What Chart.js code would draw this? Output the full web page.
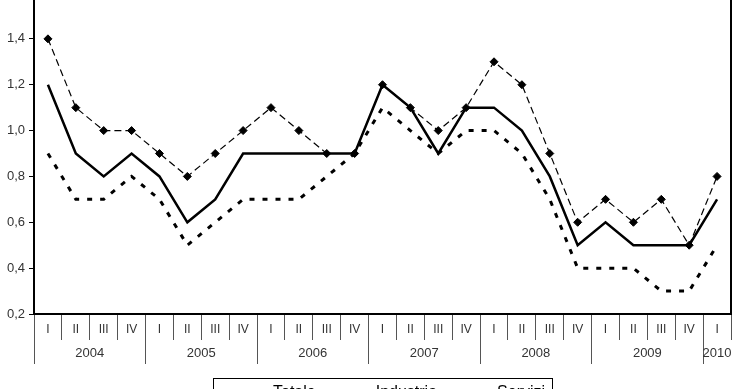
<!DOCTYPE html>
<html><head><meta charset="utf-8">
<script src="https://cdn.jsdelivr.net/npm/chart.js@4.4.0/dist/chart.umd.min.js"></script>
<style>
html,body{margin:0;padding:0;background:#fff;overflow:hidden;width:740px;height:389px;}
#wrap{position:absolute;left:0;top:-20px;width:740px;height:440px;}
</style></head><body>
<div id="wrap"><canvas id="c"></canvas></div>
<script>
const quarters = ['I','II','III','IV','I','II','III','IV','I','II','III','IV','I','II','III','IV','I','II','III','IV','I','II','III','IV','I'];
const years = ['2004','2005','2006','2007','2008','2009','2010'];
const totale    = [1.2,0.9,0.8,0.9, 0.8,0.6,0.7,0.9, 0.9,0.9,0.9,0.9, 1.2,1.1,0.9,1.1, 1.1,1.0,0.8,0.5, 0.6,0.5,0.5,0.5, 0.7];
const industria = [0.9,0.7,0.7,0.8, 0.7,0.5,0.6,0.7, 0.7,0.7,0.8,0.9, 1.1,1.0,0.9,1.0, 1.0,0.9,0.7,0.4, 0.4,0.4,0.3,0.3, 0.5];
const servizi   = [1.4,1.1,1.0,1.0, 0.9,0.8,0.9,1.0, 1.1,1.0,0.9,0.9, 1.2,1.1,1.0,1.1, 1.3,1.2,0.9,0.6, 0.7,0.6,0.7,0.5, 0.8];
const yMin = 0.2, yMax = 1.6, yStep = 0.2;

// year axis ticks: boundaries every 4 quarters, labels in the middle of each year
const yearTickValues = [];
for (let i = 0; i <= quarters.length; i += 2) yearTickValues.push(i);
yearTickValues.push(quarters.length - 0.5);
yearTickValues.sort((a,b)=>a-b);

const FONT = 'Liberation Sans, Arial, sans-serif';

const legendBox = {
  id: 'legendBox',
  afterLayout(chart) {
    const lg = chart.legend;
    lg.left = 213;
    lg.top += 4;
    lg.bottom += 4;
  },
  afterDraw(chart) {
    const lg = chart.legend;
    const pad = lg.options.labels.padding;
    const ctx = chart.ctx;
    const x0 = lg.left + pad - 12;
    const w = lg.lineWidths[0] - pad + 19;
    const y0 = lg.top + pad - 7;
    ctx.save();
    ctx.strokeStyle = '#000';
    ctx.lineWidth = 1;
    ctx.strokeRect(Math.round(x0) + 0.5, Math.round(y0) + 0.5, Math.round(w), 40);
    ctx.restore();
  }
};

new Chart(document.getElementById('c'), {
  type: 'line',
  data: {
    labels: quarters,
    datasets: [
      { label: 'Totale', data: totale, borderColor: '#000', borderWidth: 2.5, pointRadius: 0, tension: 0, fill: false },
      { label: 'Industria', data: industria, borderColor: '#000', borderWidth: 3, borderDash: [5, 8], borderCapStyle: 'butt', pointRadius: 0, tension: 0, fill: false },
      { label: 'Servizi', data: servizi, borderColor: '#000', borderWidth: 1.2, borderDash: [7, 4], pointStyle: 'rectRot', pointRadius: 4, pointBackgroundColor: '#000', pointBorderColor: '#000', pointBorderWidth: 1, tension: 0, fill: false }
    ]
  },
  options: {
    responsive: true,
    maintainAspectRatio: false,
    animation: false,
    layout: { padding: { top: 13, right: 9, left: 0, bottom: 13 } },
    plugins: {
      tooltip: { enabled: false },
      legend: {
        position: 'bottom',
        align: 'start',
        labels: {
          font: { family: FONT, size: 16 },
          color: '#000',
          padding: 12,
          usePointStyle: true,
          pointStyleWidth: 40,
          generateLabels(chart) {
            return chart.data.datasets.map((ds, i) => ({
              text: ds.label,
              fillStyle: '#000',
              strokeStyle: '#000',
              lineWidth: ds.borderWidth,
              lineDash: ds.borderDash || [],
              pointStyle: 'line',
              hidden: false,
              datasetIndex: i,
              fontColor: '#000'
            }));
          }
        }
      }
    },
    scales: {
      y: {
        min: yMin, max: yMax,
        afterFit(scale) { scale.width = 34; },
        ticks: {
          stepSize: yStep,
          padding: 4,
          color: '#333',
          font: { family: FONT, size: 13 },
          callback: (v) => Number(v).toFixed(1).replace('.', ',')
        },
        grid: { drawOnChartArea: false, tickLength: 5, color: '#000', lineWidth: 1 },
        border: { display: true, color: '#000', width: 2 }
      },
      y2: {
        position: 'right',
        display: true,
        min: yMin, max: yMax,
        ticks: { display: false },
        grid: { display: false, drawTicks: false },
        border: { display: true, color: '#000', width: 2 }
      },
      x: {
        type: 'category',
        offset: true,
        weight: 0,
        afterFit(scale) { scale.height = 26; },
        ticks: {
          autoSkip: false, maxRotation: 0, minRotation: 0,
          padding: -18,
          color: '#333',
          font: { family: FONT, size: 12 }
        },
        grid: { offset: true, drawOnChartArea: false, tickLength: 26, color: '#555', lineWidth: 1 },
        border: { display: true, color: '#000', width: 2 }
      },
      x2: {
        type: 'linear',
        position: 'bottom',
        weight: 1,
        min: 0, max: quarters.length,
        afterFit(scale) { scale.height = 29; },
        afterBuildTicks(scale) { scale.ticks = yearTickValues.map(v => ({ value: v })); },
        ticks: {
          autoSkip: false, maxRotation: 0, minRotation: 0,
          padding: -18,
          color: '#333',
          font: { family: FONT, size: 13 },
          callback(v) {
            if (v === quarters.length - 0.5) return years[years.length - 1];
            if (v % 4 === 2) return years[(v - 2) / 4];
            return '';
          }
        },
        grid: {
          drawOnChartArea: false, tickLength: 24, lineWidth: 1,
          color(ctx) {
            const v = ctx.tick ? ctx.tick.value : -1;
            return (v % 4 === 0 || v === quarters.length) ? '#555' : 'rgba(0,0,0,0)';
          }
        },
        border: { display: false }
      }
    }
  },
  plugins: [legendBox]
});
</script>
</body></html>
